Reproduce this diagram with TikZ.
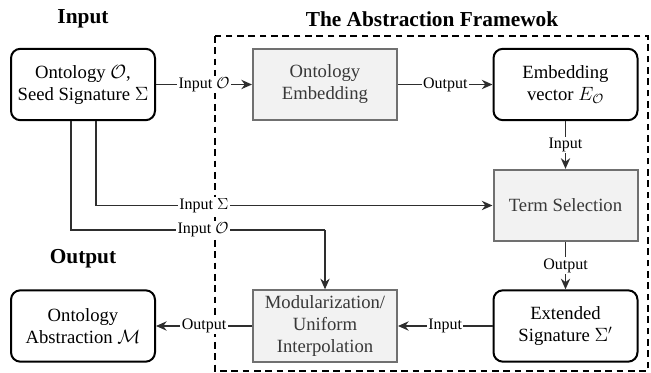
\documentclass[tikz,border=0pt]{standalone}
\usepackage{fontspec}
\setmainfont{Liberation Serif}
\usetikzlibrary{arrows.meta,positioning,calc}
\definecolor{boxfill}{HTML}{F2F2F2}
\definecolor{boxline}{HTML}{707070}
\definecolor{boxtext}{HTML}{383838}
\definecolor{wire}{HTML}{2E2E2E}

\begin{document}
\begin{tikzpicture}[
    x=0.75pt, y=-0.75pt,
    block/.style={rectangle, draw=boxline, fill=boxfill, line width=1.5pt, text=boxtext,
        minimum width=108pt, minimum height=53.5pt, align=center, font=\fontsize{14}{16.5}\selectfont},
    data/.style={rectangle, rounded corners=7pt, draw=black, line width=1.5pt,
        minimum width=108pt, minimum height=53.5pt, align=center, font=\fontsize{14}{16.5}\selectfont},
    flow/.style={draw=wire, line width=1pt, -{Stealth[length=8pt,width=7pt]}},
    tag/.style={fill=white, inner sep=1pt, font=\fontsize{12}{14}\selectfont},
    heading/.style={font=\fontsize{16}{19}\selectfont\bfseries}
]
\useasboundingbox (0,0) rectangle (651,373);

% Framework border
\draw[line width=1.6pt, dash pattern=on 5pt off 3.5pt] (215,36) rectangle (648,371);

% Headings
\node[heading] (hin) at (83,19) {Input};
\node[heading] (hfw) at (432,19) {The Abstraction Framewok};
\node[heading] (hout) at (83,259) {Output};

% Boxes
\node[data] (in) at (83,84.5) {Ontology $\mathcal{O}$,\\Seed Signature $\Sigma$};
\node[block] (emb) at (325,84.5) {Ontology\\Embedding};
\node[data] (vec) at (565.5,84.5) {Embedding\\vector $E_{\mathcal{O}}$};
\node[block] (sel) at (565.5,205.5) {Term Selection};
\node[data] (sig) at (565.5,326) {Extended\\Signature $\Sigma'$};
\node[block] (mod) at (325,326) {Modularization/\\Uniform\\Interpolation};
\node[data] (out) at (83,326) {Ontology\\Abstraction $\mathcal{M}$};
\coordinate (bend) at (325,230);

% Connectors
\draw[flow] (in) -- node[tag] {Input $\mathcal{O}$} (emb);
\draw[flow] (emb) -- node[tag] {Output} (vec);
\draw[flow] (vec) -- node[tag] {Input} (sel);
\draw[flow] (sel) -- node[tag] {Output} (sig);
\draw[flow] (sig) -- node[tag] {Input} (mod);
\draw[flow] (mod) -- node[tag] {Output} (out);
\draw[flow] ($(in.south)+(13,0)$) |- node[tag, pos=0.636] {Input $\Sigma$} (sel.west);
\draw[flow, -] ($(in.south)+(-12,0)$) |- node[tag, pos=0.76] {Input $\mathcal{O}$} (bend);
\draw[flow] (bend) -- (mod.north);

\end{tikzpicture}
\end{document}
